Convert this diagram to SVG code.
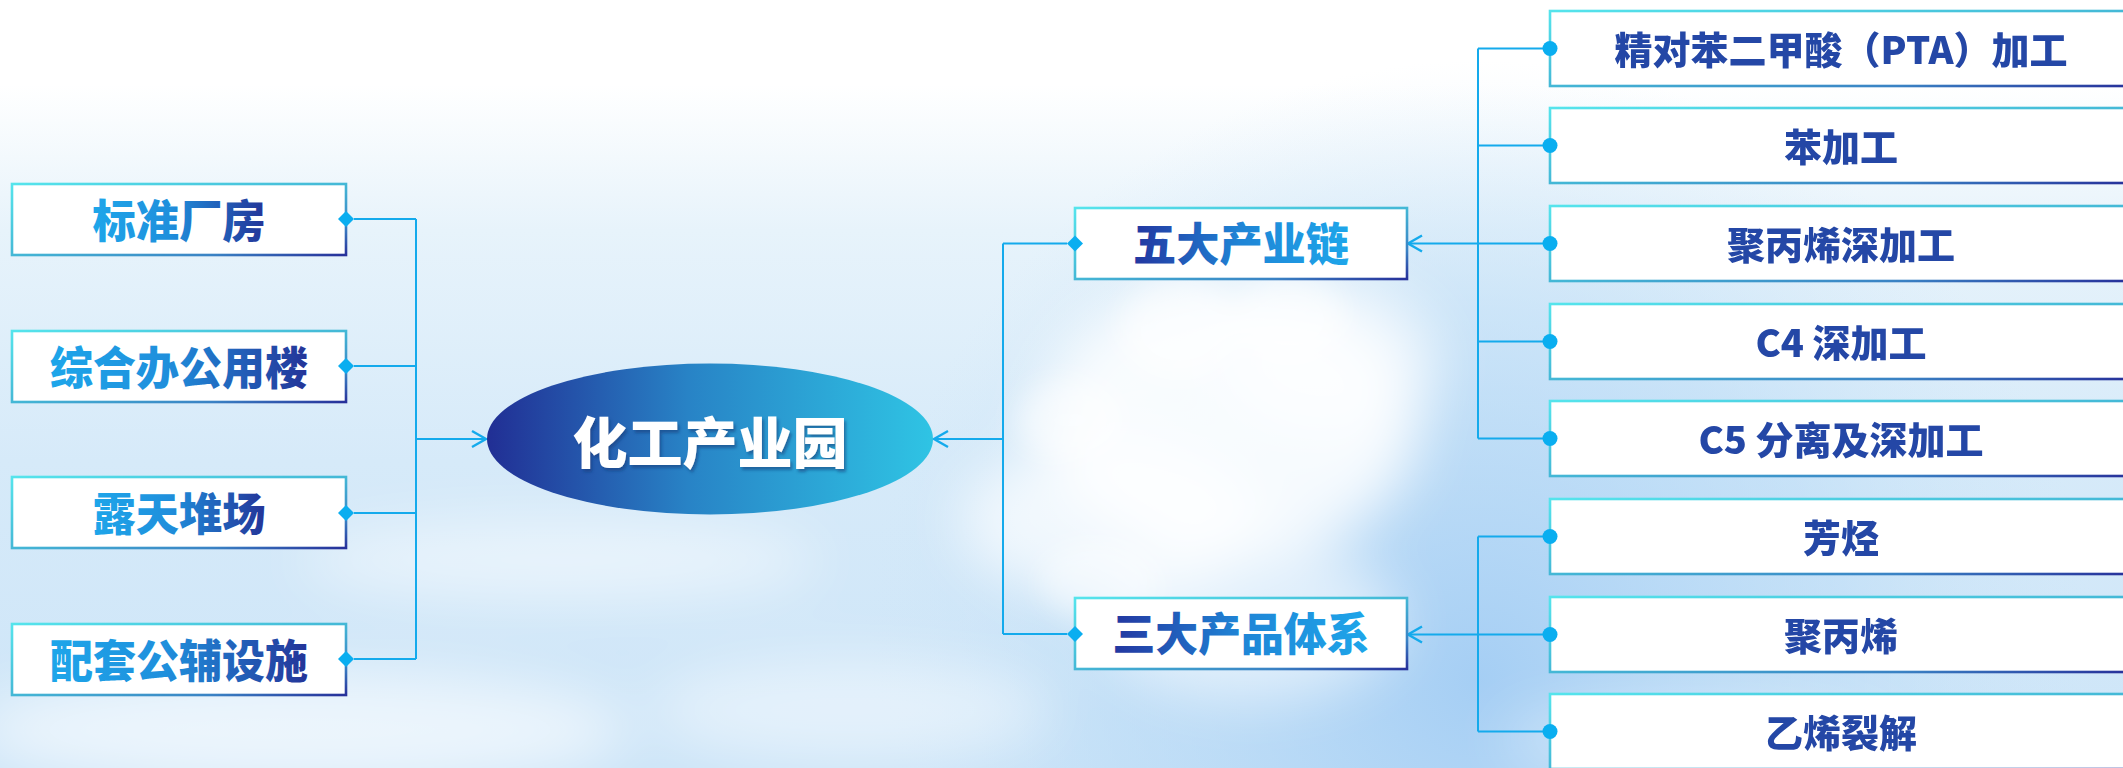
<svg xmlns="http://www.w3.org/2000/svg" xmlns:xlink="http://www.w3.org/1999/xlink" width="2123" height="768" viewBox="0 0 2123 768">
<defs>
<style>
.box{fill:#ffffff;stroke:url(#boxStroke);stroke-width:2.6}
.lt{font-family:"Noto Sans CJK SC","Noto Sans",sans-serif;font-weight:900;font-size:45px;text-anchor:middle;fill:url(#txtL)}
.mt{font-family:"Noto Sans CJK SC","Noto Sans",sans-serif;font-weight:900;font-size:45px;text-anchor:middle;fill:url(#txtM)}
.rt{font-family:"Noto Sans CJK SC","Noto Sans",sans-serif;font-weight:900;font-size:38px;text-anchor:middle;fill:#2447a6}
.ct{font-family:"Noto Sans CJK SC","Noto Sans",sans-serif;font-weight:900;font-size:55px;text-anchor:middle;fill:#ffffff}
.ln{fill:none;stroke:#14aaec;stroke-width:2}
.ah{fill:none;stroke:#14aaec;stroke-width:2.4}
.pt{fill:#0aaef0}
</style>
<linearGradient id="bg" x1="0" y1="0" x2="0" y2="1">
<stop offset="0" stop-color="#ffffff"/>
<stop offset="0.11" stop-color="#ffffff"/>
<stop offset="0.3" stop-color="#e7f3fb"/>
<stop offset="0.6" stop-color="#d6eaf9"/>
<stop offset="1" stop-color="#cde5f8"/>
</linearGradient>
<radialGradient id="blueR" cx="1480" cy="680" r="620" gradientUnits="userSpaceOnUse">
<stop offset="0" stop-color="#a3cdf4" stop-opacity="0.95"/>
<stop offset="0.6" stop-color="#b8daf6" stop-opacity="0.5"/>
<stop offset="1" stop-color="#cfe6f8" stop-opacity="0"/>
</radialGradient>
<filter id="blur" x="-50%" y="-50%" width="200%" height="200%"><feGaussianBlur stdDeviation="28"/></filter>
<filter id="blur2" x="-50%" y="-50%" width="200%" height="200%"><feGaussianBlur stdDeviation="14"/></filter>
<filter id="shadow" x="-20%" y="-20%" width="140%" height="140%"><feDropShadow dx="2" dy="3" stdDeviation="1.6" flood-color="#183a78" flood-opacity="0.55"/></filter>
<linearGradient id="boxStroke" x1="0" y1="0" x2="1" y2="1">
<stop offset="0" stop-color="#55e4ec"/>
<stop offset="0.5" stop-color="#44b8d6"/>
<stop offset="0.8" stop-color="#3a82c4"/>
<stop offset="1" stop-color="#27309a"/>
</linearGradient>
<linearGradient id="txtL" x1="0" y1="0" x2="1" y2="0">
<stop offset="0" stop-color="#1ea6ea"/>
<stop offset="0.45" stop-color="#1f8fdc"/>
<stop offset="1" stop-color="#243498"/>
</linearGradient>
<linearGradient id="txtM" x1="0" y1="0" x2="1" y2="0">
<stop offset="0" stop-color="#2336a0"/>
<stop offset="0.5" stop-color="#1f85d6"/>
<stop offset="1" stop-color="#1ea6ea"/>
</linearGradient>
<linearGradient id="ellG" x1="0" y1="0" x2="1" y2="0">
<stop offset="0" stop-color="#212e94"/>
<stop offset="0.45" stop-color="#2883c6"/>
<stop offset="1" stop-color="#2fc4e4"/>
</linearGradient>
<path id="dia" d="M-8,0 L0,-8 L8,0 L0,8Z"/>
</defs>

<g id="background">
<rect x="0" y="0" width="2123" height="768" fill="url(#bg)"/>
<rect x="0" y="0" width="2123" height="768" fill="url(#blueR)"/>
<g filter="url(#blur)" fill="#ffffff">
<ellipse cx="1230" cy="420" rx="190" ry="140" opacity="0.85"/>
<ellipse cx="1110" cy="520" rx="150" ry="80" opacity="0.7"/>
<ellipse cx="1330" cy="360" rx="110" ry="80" opacity="0.6"/>
<ellipse cx="1250" cy="620" rx="150" ry="80" opacity="0.55"/>
<ellipse cx="300" cy="730" rx="330" ry="60" opacity="0.6"/>
<ellipse cx="850" cy="710" rx="200" ry="50" opacity="0.45"/>
<ellipse cx="560" cy="560" rx="260" ry="40" opacity="0.5"/>
<ellipse cx="1700" cy="740" rx="200" ry="40" opacity="0.35"/>
</g>
<g filter="url(#blur2)" fill="#ffffff">
<ellipse cx="1180" cy="330" rx="60" ry="50" opacity="0.55"/>
<ellipse cx="1290" cy="320" rx="55" ry="45" opacity="0.55"/>
<ellipse cx="1070" cy="420" rx="55" ry="40" opacity="0.5"/>
<ellipse cx="1100" cy="580" rx="60" ry="40" opacity="0.45"/>
</g>
</g>

<g id="connectors">
<path class="ln" d="M354,219 H416 M354,366 H416 M354,513 H416 M354,659 H416 M416,219 V659 M416,439 H485"/>
<path class="ah" d="M472,431 L486,439 L472,447"/>
<path class="ln" d="M935,439 H1003 M1003,243.5 V634 M1003,243.5 H1067 M1003,634 H1067"/>
<path class="ah" d="M948,431 L934,439 L948,447"/>
<path class="ln" d="M1409,243.5 H1550 M1478,48.5 V438.5 M1478,48.5 H1550 M1478,145.5 H1550 M1478,341.5 H1550 M1478,438.5 H1550"/>
<path class="ah" d="M1422,235.5 L1408,243.5 L1422,251.5"/>
<path class="ln" d="M1409,634.5 H1550 M1478,536.5 V731.5 M1478,536.5 H1550 M1478,731.5 H1550"/>
<path class="ah" d="M1422,626.5 L1408,634.5 L1422,642.5"/>
</g>

<g id="node-center">
<ellipse cx="710" cy="439" rx="223" ry="75.5" fill="url(#ellG)"/>
<text class="ct" x="710" y="463" filter="url(#shadow)">化工产业园</text>
</g>

<g id="node-l1">
<rect class="box" x="12" y="184" width="334" height="71"/>
<text class="lt" x="179" y="237.5" textLength="173" lengthAdjust="spacingAndGlyphs">标准厂房</text>
<use href="#dia" x="346" y="219" class="pt"/>
</g>
<g id="node-l2">
<rect class="box" x="12" y="331" width="334" height="71"/>
<text class="lt" x="179" y="384.5" textLength="258" lengthAdjust="spacingAndGlyphs">综合办公用楼</text>
<use href="#dia" x="346" y="366" class="pt"/>
</g>
<g id="node-l3">
<rect class="box" x="12" y="477" width="334" height="71"/>
<text class="lt" x="179" y="530.5" textLength="173" lengthAdjust="spacingAndGlyphs">露天堆场</text>
<use href="#dia" x="346" y="513" class="pt"/>
</g>
<g id="node-l4">
<rect class="box" x="12" y="624" width="334" height="71"/>
<text class="lt" x="179" y="677.5" textLength="258" lengthAdjust="spacingAndGlyphs">配套公辅设施</text>
<use href="#dia" x="346" y="659" class="pt"/>
</g>

<g id="node-m1">
<rect class="box" x="1075" y="208" width="332" height="71"/>
<text class="mt" x="1241" y="261" textLength="216" lengthAdjust="spacingAndGlyphs">五大产业链</text>
<use href="#dia" x="1075" y="243.5" class="pt"/>
</g>
<g id="node-m2">
<rect class="box" x="1075" y="598" width="332" height="71"/>
<text class="mt" x="1241" y="651" textLength="257" lengthAdjust="spacingAndGlyphs">三大产品体系</text>
<use href="#dia" x="1075" y="634" class="pt"/>
</g>

<g id="node-r1">
<rect class="box" x="1550" y="11" width="582" height="75"/>
<text class="rt" x="1841" y="64">精对苯二甲酸（PTA）加工</text>
<circle class="pt" cx="1550" cy="48.5" r="7.5"/>
</g>
<g id="node-r2">
<rect class="box" x="1550" y="108" width="582" height="75"/>
<text class="rt" x="1841" y="161">苯加工</text>
<circle class="pt" cx="1550" cy="145.5" r="7.5"/>
</g>
<g id="node-r3">
<rect class="box" x="1550" y="206" width="582" height="75"/>
<text class="rt" x="1841" y="259">聚丙烯深加工</text>
<circle class="pt" cx="1550" cy="243.5" r="7.5"/>
</g>
<g id="node-r4">
<rect class="box" x="1550" y="304" width="582" height="75"/>
<text class="rt" x="1841" y="357">C4 深加工</text>
<circle class="pt" cx="1550" cy="341.5" r="7.5"/>
</g>
<g id="node-r5">
<rect class="box" x="1550" y="401" width="582" height="75"/>
<text class="rt" x="1841" y="454">C5 分离及深加工</text>
<circle class="pt" cx="1550" cy="438.5" r="7.5"/>
</g>
<g id="node-r6">
<rect class="box" x="1550" y="499" width="582" height="75"/>
<text class="rt" x="1841" y="552">芳烃</text>
<circle class="pt" cx="1550" cy="536.5" r="7.5"/>
</g>
<g id="node-r7">
<rect class="box" x="1550" y="597" width="582" height="75"/>
<text class="rt" x="1841" y="650">聚丙烯</text>
<circle class="pt" cx="1550" cy="634.5" r="7.5"/>
</g>
<g id="node-r8">
<rect class="box" x="1550" y="694" width="582" height="75"/>
<text class="rt" x="1841" y="747">乙烯裂解</text>
<circle class="pt" cx="1550" cy="731.5" r="7.5"/>
</g>
</svg>
